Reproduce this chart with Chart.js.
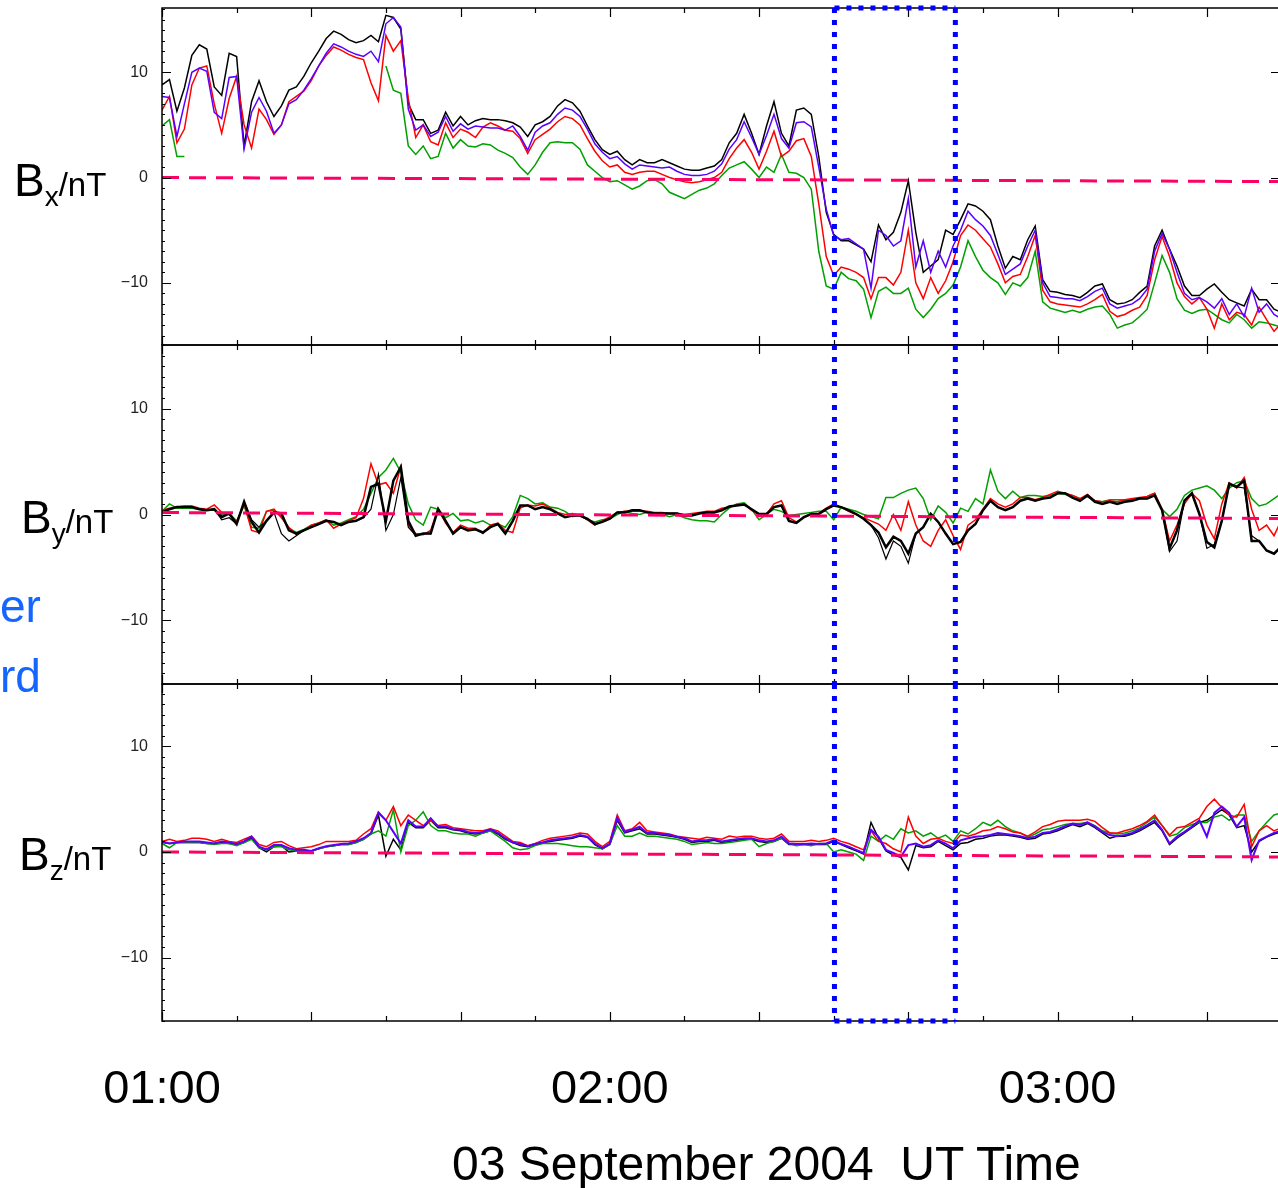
<!DOCTYPE html>
<html>
<head>
<meta charset="utf-8">
<title>Magnetic field components, 03 September 2004</title>
<script src="https://cdn.jsdelivr.net/npm/chart.js@4.4.1/dist/chart.umd.min.js"></script>
<style>
  body { margin: 0; background: #fff; }
  #wrap { position: relative; width: 1278px; height: 1188px; overflow: hidden; font-family: 'Liberation Sans', Arial, sans-serif; }
  canvas { position: absolute; left: 0; }
  .lab { position: absolute; white-space: nowrap; color: #000; line-height: 1; }
  .big { font-size: 46px; }
  .sub { font-size: 28px; position: relative; top: 10px; }
  .unit { font-size: 33px; }
  .cut { position: absolute; left: 0; width: 40px; text-align: right; font-size: 46px; line-height: 1; color: #1466ff; }
</style>
</head>
<body>
<div id="wrap">
  <canvas id="bx" width="1300" height="350" style="top:0px"></canvas>
  <canvas id="by" width="1300" height="350" style="top:340px"></canvas>
  <canvas id="bz" width="1300" height="509" style="top:679px"></canvas>

  <div class="lab" style="left:14px;top:157px"><span class="big">B</span><span class="sub">x</span><span class="unit">/nT</span></div>
  <div class="lab" style="left:21px;top:494px"><span class="big">B</span><span class="sub">y</span><span class="unit">/nT</span></div>
  <div class="lab" style="left:19px;top:831px"><span class="big">B</span><span class="sub">z</span><span class="unit">/nT</span></div>

  <div class="cut" style="top:583px">er</div>
  <div class="cut" style="top:653px;width:37px">rd</div>

  <div class="lab" style="left:452px;top:1140px;font-size:48px;white-space:pre">03 September 2004  UT Time</div>
</div>
<script>
// one sample per minute, minutes after 01:00 UT
const minutes = Array.from({ length: 151 }, (_, i) => i);

const hourTicks = [0, 60, 120];
const hourLabels = ['01:00', '02:00', '03:00'];
const yTickVals = [-10, 0, 10];
const yTickText = ['\u221210', '0', '10'];

// dotted box: start / end of the interval (minutes after 01:00)
const eventWindow = [90.1, 106.3];

// dashed reference line, value at left and right edge (Bx, By, Bz)
const zeroLeft = [0.0, 0.19, 0.0];
const zeroRight = [-0.38, -0.38, -0.47];

/******************** Bx ********************/
const bxBlack = [
  8.8, 9.3, 6.3, 8.5, 11.6, 12.6, 12.2, 8.6, 7.8, 11.8,
  11.5, 3.0, 7.2, 9.2, 7.2, 5.8, 6.8, 8.3, 8.6, 9.6,
  10.9, 12.0, 13.2, 13.9, 13.6, 13.1, 12.8, 13.0, 13.5, 12.9,
  15.4, 15.2, 14.1, 7.0, 5.5, 5.5, 4.2, 4.5, 6.2, 4.9,
  5.8, 5.0, 5.4, 5.6, 5.5, 5.5, 5.4, 5.2, 4.8, 3.9,
  5.0, 5.3, 5.8, 6.8, 7.4, 7.1, 6.3, 4.9, 3.6, 2.65,
  2.2, 2.5, 1.7, 1.2, 1.7, 1.4, 1.4, 1.7, 1.4, 1.1,
  0.8, 0.7, 0.7, 0.9, 1.1, 1.7, 3.3, 4.2, 6.0, 4.2,
  2.2, 4.9, 7.2, 4.2, 3.0, 6.4, 6.6, 6.0, 2.0, -3.3,
  -5.4, -6.0, -6.0, -6.4, -6.8, -8.0, -4.5, -5.9, -5.2, -3.3,
  -0.3, -5.2, -9.0, -8.4, -7.8, -5.0, -5.4, -4.0, -2.5, -2.7,
  -3.2, -4.0, -6.5, -8.6, -7.5, -7.8, -5.9, -4.6, -9.7, -10.8,
  -10.9, -11.1, -11.2, -11.4, -10.9, -10.3, -10.1, -11.6, -12.0, -11.9,
  -11.6, -10.9, -10.3, -6.5, -5.0, -6.8, -8.4, -10.3, -11.2, -11.2,
  -10.6, -10.1, -10.9, -11.6, -11.9, -12.2, -10.6, -11.6, -11.6, -12.5, -12.8
];
const bxBlue = [
  7.7, 7.6, 3.9, 7.0, 10.0, 10.4, 10.1, 6.2, 5.6, 9.5,
  9.6, 2.7, 6.2, 7.6, 6.3, 4.2, 5.0, 7.0, 7.4, 8.3,
  9.4, 10.6, 11.8, 12.7, 12.4, 12.0, 11.7, 11.5, 12.0, 11.0,
  14.6, 15.2, 14.3, 6.5, 4.5, 5.0, 3.9, 4.3, 5.8, 4.4,
  5.1, 4.6, 4.9, 4.8, 4.7, 4.7, 4.5, 4.9, 3.9, 2.6,
  4.3, 4.9, 5.2, 6.0, 6.6, 6.4, 5.8, 4.6, 3.2, 2.4,
  1.8, 2.0, 1.3, 0.8, 1.2, 1.1, 1.0, 0.9, 1.0, 0.6,
  0.3, 0.2, 0.2, 0.3, 0.6, 1.3, 2.7, 3.6, 5.3, 3.8,
  2.2, 4.0, 6.0, 3.7, 2.8, 5.2, 5.3, 4.8, 1.0, -3.0,
  -5.5, -5.9, -5.8, -6.3, -6.8, -10.5, -5.0, -5.5, -6.5, -6.0,
  -2.0, -8.5, -6.0, -9.0, -7.0, -8.5, -6.5, -5.0, -3.2, -4.0,
  -4.6, -5.5, -7.3, -9.2, -8.7, -8.2, -6.5, -5.0, -10.0, -11.3,
  -11.4, -11.5, -11.5, -11.7, -11.3, -10.8, -10.5, -12.0, -12.4, -12.2,
  -12.0, -11.5, -10.6, -7.0, -5.3, -6.8, -9.0, -11.0, -11.6, -11.4,
  -11.8, -12.4, -11.5, -13.0, -12.0, -13.2, -10.5, -12.8, -12.0, -13.0, -13.4
];
const bxRed = [
  6.4, 7.7, 3.3, 4.6, 8.8, 10.4, 10.6, 7.0, 4.2, 7.5,
  9.6, 5.0, 2.8, 6.5, 5.5, 4.1, 5.0, 7.2, 7.7, 8.2,
  9.2, 10.6, 11.6, 12.4, 12.1, 11.7, 11.4, 11.2, 9.0, 7.3,
  13.5, 12.0, 13.0, 7.5, 3.8, 5.0, 3.4, 3.1, 5.2, 3.8,
  4.6, 4.3, 3.8, 4.8, 5.2, 4.9, 4.5, 4.4, 3.7, 2.3,
  3.6, 4.1, 4.6, 5.3, 5.8, 5.6, 5.0, 3.7, 2.5, 1.6,
  1.0, 1.2, 0.5, 0.3, 0.5, 0.6, 0.6, 0.3, 0.0, -0.2,
  -0.4, -0.5, -0.4, -0.2, 0.0, 0.5, 1.8, 2.8, 3.6, 2.4,
  0.8, 2.5, 4.4, 2.0, 2.5, 3.5, 3.7, 2.0, -2.5, -7.5,
  -9.3, -8.5, -8.7, -9.0, -9.5, -11.5, -9.5, -9.5, -10.2, -9.0,
  -5.0, -10.0, -11.5, -9.5, -11.0, -9.8, -8.0, -5.5, -4.5, -5.0,
  -5.8, -6.6, -8.2, -10.0, -9.4, -9.2, -7.5, -5.5, -10.7, -11.8,
  -12.0, -12.1, -12.2, -12.3, -12.0, -11.6, -11.1, -12.7, -13.2, -13.0,
  -12.6, -12.3, -11.2, -7.8, -5.6, -7.5, -10.0, -11.3, -12.0, -11.4,
  -12.5, -14.3, -12.0, -13.5, -12.8, -13.0, -14.0, -12.3, -13.5, -14.6, -13.8
];
const bxGreen = [
  4.9, 5.5, 2.0, 2.0, null, null, null, null, null, null,
  null, null, null, null, null, null, null, null, null, null,
  null, null, null, null, null, null, null, null, null, null,
  10.6, 8.3, 8.0, 3.0, 2.2, 3.0, 1.8, 2.0, 4.2, 2.8,
  3.6, 3.0, 2.9, 3.2, 3.1, 2.6, 2.3, 1.9, 1.0, 0.3,
  1.2, 2.4, 3.3, 3.4, 3.3, 3.3, 2.7, 1.2, 0.6, 0.0,
  -0.4, -0.3, -0.7, -1.1, -0.8, -0.3, -0.2, -0.6, -1.4, -1.7,
  -2.0, -1.6, -1.2, -1.0, -0.6, 0.2, 0.9, 1.2, 1.5, 0.8,
  0.0, 1.0, 0.5, 2.2, 0.5, 0.4, 0.0, -1.1, -7.0, -10.3,
  -10.6, -9.0, -9.6, -9.8, -10.6, -13.3, -10.8, -10.4, -11.0, -11.0,
  -10.5, -12.5, -13.3, -12.5, -11.5, -11.0, -10.2, -8.5, -6.0, -7.5,
  -8.8, -9.5, -10.0, -11.1, -10.0, -10.3, -9.5, -7.0, -11.8, -12.4,
  -12.6, -12.8, -12.6, -12.8, -12.5, -12.3, -12.2, -13.0, -14.3, -14.0,
  -13.8, -13.2, -12.5, -10.0, -7.4, -9.0, -11.5, -12.6, -12.9, -12.6,
  -12.5, -13.0, -13.5, -13.8, -13.0, -13.5, -14.3, -13.7, -13.8, -14.0, -14.2
];

/******************** By ********************/
const byBlack = [
  0.2, 0.5, 0.7, 0.7, 0.7, 0.5, 0.4, 0.5, -0.25, 0.1,
  -0.9, 1.2, -0.7, -1.7, -0.6, 0.2, 0.1, -1.5, -1.8, -1.5,
  -1.2, -0.9, -0.6, -0.7, -1.0, -0.7, -0.6, -0.25, 2.6, 2.9,
  -0.6, 3.2, 4.5, -0.6, -2.0, -1.8, -1.8, 0.5, -0.6, -1.8,
  -1.2, -1.5, -1.4, -1.7, -1.2, -0.9, -1.8, -0.6, 0.85, 0.85,
  0.5, 0.7, 0.5, 0.1, -0.25, -0.1, -0.1, -0.4, -0.9, -0.7,
  -0.4, 0.2, 0.2, 0.4, 0.4, 0.2, 0.1, 0.1, 0.1, 0.1,
  -0.1, -0.1, 0.1, 0.2, 0.2, 0.4, 0.75, 0.85, 0.95, 0.5,
  0.05, 0.05, 0.7, 0.85, -0.6, -0.8, -0.25, 0.05, 0.05, 0.5,
  0.85, 0.7, 0.4, 0.05, -0.4, -1.0, -1.7, -3.1, -2.1, -2.5,
  -3.7, -1.8, -1.2, 0.05, -0.7, -1.8, -2.8, -2.6, -1.5, -0.9,
  0.4, 1.3, 0.7, 0.4, 0.7, 1.3, 1.5, 1.3, 1.5, 1.6,
  2.0, 2.0, 1.6, 1.3, 1.8, 1.2, 1.0, 1.2, 1.0, 1.2,
  1.3, 1.5, 1.5, 1.8, 0.4, -3.2, -1.5, 1.3, 2.0, 0.05,
  -2.6, -3.1, -0.6, 2.9, 2.6, 3.2, -2.5, -2.5, -3.4, -3.7, -3.0
];
// fourth By trace, plotted thin and black like the reference
const byThin = [
  0.2, 0.5, 0.7, 0.7, 0.7, 0.5, 0.4, 0.5, -0.5, -0.3,
  -0.9, 1.2, -0.5, -1.2, -0.6, 0.2, -1.8, -2.5, -2.0, -1.5,
  -1.2, -0.9, -0.6, -0.7, -1.0, -0.7, -0.6, -0.3, 0.5, 3.8,
  -1.5, 0.0, 3.5, -1.2, -2.0, -1.8, -1.8, 0.5, -0.6, -1.8,
  -1.2, -1.5, -1.4, -1.7, -1.2, -0.9, -1.8, -0.6, 0.85, 0.85,
  0.5, 0.7, 0.5, 0.1, -0.25, -0.1, -0.1, -0.4, -0.9, -0.7,
  -0.4, 0.2, 0.2, 0.4, 0.4, 0.2, 0.1, 0.1, 0.1, 0.1,
  -0.1, -0.1, 0.1, 0.2, 0.2, 0.4, 0.75, 0.85, 0.95, 0.5,
  0.05, 0.05, 0.7, 0.85, -0.6, -0.8, -0.25, 0.05, 0.05, 0.5,
  0.85, 0.7, 0.4, 0.05, -0.4, -1.0, -2.2, -4.2, -2.5, -3.0,
  -4.6, -1.8, -1.2, 0.05, -0.7, -1.8, -2.8, -2.6, -1.5, -0.9,
  0.4, 1.3, 0.7, 0.4, 0.7, 1.3, 1.5, 1.3, 1.5, 1.6,
  2.0, 2.0, 1.6, 1.3, 1.8, 1.2, 1.0, 1.2, 1.0, 1.2,
  1.3, 1.5, 1.5, 1.8, 0.4, -3.5, -2.5, 1.3, 2.0, 0.05,
  -3.2, -2.8, -0.6, 2.9, 2.6, 2.5, -2.0, -2.5, -3.4, -3.7, -3.0
];
const byRed = [
  0.4, 0.6, 0.7, 0.8, 0.8, 0.6, 0.5, 0.9, 0.2, 0.0,
  -0.7, 1.0, -1.5, -1.7, 0.3, 0.5, -0.3, -1.2, -1.9, -1.5,
  -1.0, -0.8, -0.5, -1.3, -0.9, -0.6, -0.3, 1.5, 4.8, 2.8,
  3.0, 2.0, 4.5, -1.0, -1.8, -1.9, -1.5, 0.6, -0.8, -1.7,
  -1.0, -1.3, -1.3, -1.8, -1.0, -0.8, -1.5, -1.7, 0.6, 0.9,
  0.8, 1.0, 0.6, 0.2, 0.0, 0.1, -0.1, -0.5, -1.0, -0.6,
  -0.2, 0.2, 0.3, 0.3, 0.3, 0.3, 0.2, 0.2, 0.1, 0.1,
  0.0, 0.1, 0.2, 0.3, 0.3, 0.6, 0.7, 0.9, 1.0, 0.4,
  0.0, 0.0, 1.0, 1.3, -0.3, -0.7, -0.3, 0.0, 0.1, 0.6,
  1.0, 0.7, 0.3, 0.0, -0.3, -0.6, -0.9, -1.5, 0.0, -1.5,
  1.2, -1.0, -2.5, -3.0, -1.5, -0.5, -2.0, -3.3, -1.0, -0.5,
  0.5, 1.5, 1.0, 0.7, 1.0, 1.6, 1.6, 1.4, 1.6, 1.9,
  2.2, 2.0, 1.8, 1.5, 1.9, 1.3, 1.2, 1.3, 1.2, 1.4,
  1.5, 1.6, 1.7, 2.0, 0.5, -2.5, -1.0, 1.0, 2.0, 1.3,
  -1.0, -2.3, 1.0, 3.0, 2.5, 3.5, 0.5, -1.5, -1.0, -2.0, -0.5
];
const byGreen = [
  0.3, 1.0, 0.6, 0.6, 0.6, 0.5, 0.4, 0.4, 0.0, 0.1,
  -0.6, 0.8, -1.2, -1.3, 0.3, 0.4, -0.2, -1.3, -1.7, -1.4,
  -1.0, -0.8, -0.5, -1.0, -0.8, -0.5, -0.2, 0.5, 2.0, 3.5,
  4.2, 5.3, 4.0, 1.0, -0.5, -1.0, 0.7, 0.5, -0.3, 0.1,
  -0.6, -0.5, -0.8, -0.6, -1.0, -0.9, -1.2, -0.2, 1.8, 1.5,
  1.0, 1.1, 0.7, 0.6, 0.3, -0.2, 0.0, -0.5, -0.7, -0.5,
  -0.4, 0.0, 0.3, 0.1, 0.0, 0.2, 0.1, 0.0, -0.2, 0.0,
  -0.3, -0.5, -0.6, -0.6, -0.7, 0.0, 0.6, 1.0, 1.1, 0.5,
  -0.5, 0.0, 0.5, 0.3, -0.1, 0.0, 0.1, 0.2, 0.3, 0.3,
  -0.5, 0.7, 0.5, 0.3, 0.0, -0.2, -0.4, 1.6, 1.6, 2.0,
  2.3, 2.5, 1.5, -0.5, 0.8, 0.2, -0.8, 0.6, 0.3, 1.5,
  1.0, 4.2, 2.2, 1.5, 2.2, 1.6, 1.8, 1.8, 1.7, 1.8,
  2.0, 1.9, 1.8, 1.5, 1.7, 1.3, 1.2, 1.4, 1.4, 1.4,
  1.4, 1.5, 1.7, 2.0, 0.5, -0.2, 0.5, 1.8, 2.3, 2.5,
  2.7, 2.3, 1.5, 2.5, 3.0, 3.2, 1.5, 0.8, 1.0, 1.5, 2.0
];

/******************** Bz ********************/
const bzBlack = [
  0.9, 0.8, 0.9, 0.9, 0.9, 0.9, 0.8, 0.8, 0.9, 0.8,
  0.7, 0.9, 1.3, 0.4, 0.0, 0.5, 0.6, 0.0, 0.1, 0.1,
  0.1, 0.3, 0.5, 0.6, 0.7, 0.7, 0.9, 1.2, 1.7, 3.5,
  -0.4, 1.2, 0.2, 2.8, 2.3, 2.3, 3.0, 2.3, 2.3, 2.1,
  2.0, 1.8, 1.7, 1.8, 2.0, 1.7, 1.2, 0.9, 0.6, 0.5,
  0.7, 0.9, 1.0, 1.1, 1.2, 1.3, 1.5, 1.4, 0.7, 0.3,
  0.7, 3.0, 1.8, 2.0, 2.2, 1.7, 1.7, 1.6, 1.5, 1.4,
  1.2, 0.9, 1.0, 1.0, 1.1, 0.9, 1.0, 1.1, 1.2, 1.2,
  1.0, 0.9, 1.0, 1.3, 0.7, 0.7, 0.7, 0.7, 0.7, 0.7,
  1.0, 0.7, 0.4, 0.1, -0.2, 2.8, 1.3, 0.1, -0.3, -0.5,
  -1.7, 0.6, 0.4, 0.5, 1.0, 0.6, 0.2, 0.8, 0.9, 1.2,
  1.3, 1.5, 1.6, 1.6, 1.5, 1.4, 1.2, 1.3, 1.7, 1.8,
  2.0, 2.3, 2.6, 2.4, 2.7, 2.3, 1.8, 1.3, 1.5, 1.5,
  1.7, 2.0, 2.4, 2.8, 2.0, 0.7, 1.3, 1.8, 2.3, 2.8,
  3.0, 3.5, 4.0, 3.5, 2.3, 2.5, 0.0, 1.0, 1.4, 1.7, 1.9
];
const bzBlue = [
  1.0, 0.8, 0.9, 1.0, 1.0, 1.0, 0.9, 0.8, 1.0, 0.9,
  0.75, 1.0, 1.45, 0.5, 0.25, 0.65, 0.65, 0.35, 0.2, 0.2,
  0.1, 0.35, 0.55, 0.65, 0.75, 0.8, 1.0, 1.3, 1.8, 3.7,
  3.0, 1.9, 0.8, 3.0, 2.4, 2.4, 3.2, 2.4, 2.4, 2.15,
  2.1, 1.9, 1.8, 1.9, 2.15, 1.8, 1.3, 0.9, 0.75, 0.55,
  0.75, 0.9, 1.1, 1.2, 1.3, 1.4, 1.6, 1.45, 0.8, 0.35,
  0.8, 3.2, 1.9, 2.1, 2.4, 1.8, 1.8, 1.7, 1.6, 1.45,
  1.3, 1.0, 1.1, 1.1, 1.2, 1.0, 1.1, 1.2, 1.3, 1.3,
  1.1, 1.0, 1.1, 1.45, 0.8, 0.75, 0.75, 0.8, 0.75, 0.8,
  1.1, 0.75, 0.5, 0.2, -0.1, 2.1, 1.45, 0.2, -0.1, -0.45,
  0.65, 0.8, 0.5, 0.65, 1.1, 0.8, 0.35, 1.1, 1.3, 1.45,
  1.5, 1.6, 1.8, 1.7, 1.6, 1.5, 1.3, 1.45, 1.8, 1.9,
  2.15, 2.45, 2.7, 2.55, 2.8, 2.4, 1.9, 1.6, 1.5, 1.6,
  1.8, 2.15, 2.55, 3.0, 2.1, 0.8, 1.45, 1.9, 2.4, 3.0,
  1.45, 3.7, 4.3, 3.7, 2.4, 3.3, -0.75, 1.1, 1.45, 1.8, 2.0
];
const bzRed = [
  1.0, 1.2, 1.0, 1.1, 1.3, 1.3, 1.2, 1.0, 1.2, 1.0,
  0.9, 1.2, 1.5, 0.7, 0.5, 0.9, 1.0, 0.6, 0.3, 0.4,
  0.5, 0.7, 1.0, 1.0, 1.0, 1.0, 1.1, 1.7, 2.2, 3.8,
  3.0, 4.3, 2.5, 3.5, 3.0, 2.5, 3.0, 2.5, 2.6, 2.3,
  2.2, 2.1, 2.0, 2.0, 2.2, 2.0, 1.5, 1.0, 0.9, 0.6,
  0.8, 1.1, 1.3, 1.4, 1.5, 1.6, 1.8, 1.7, 1.0, 0.5,
  1.0, 3.5, 2.0, 2.2, 2.8, 2.0, 1.9, 1.8, 1.7, 1.5,
  1.4, 1.3, 1.2, 1.4, 1.3, 1.2, 1.5, 1.4, 1.5, 1.5,
  1.3, 1.2, 1.3, 1.7, 1.0, 1.0, 1.0, 1.1, 1.0, 1.1,
  1.3, 1.0, 0.8, 0.5, 0.2, 2.0, 1.0, 0.8, 0.3, 0.0,
  3.3, 1.5, 0.8, 1.2, 1.3, 1.0, 0.8, 1.6, 1.5, 1.7,
  2.0, 2.1, 2.4, 2.2, 1.9, 1.8, 1.5, 1.9, 2.4, 2.6,
  2.9, 3.0, 3.0, 3.0, 3.1, 2.9, 2.3, 1.8, 1.8, 2.0,
  2.2, 2.5, 2.9, 3.5, 2.5, 1.6, 2.3, 2.4, 2.8, 3.2,
  4.3, 5.0, 4.2, 3.5, 3.3, 4.5, 0.5, 2.0, 2.5, 2.0, 2.3
];
const bzGreen = [
  0.8, 0.4, 0.9, 0.9, 0.9, 0.9, 0.8, 0.7, 0.8, 0.8,
  0.6, 0.9, 1.2, 0.4, 0.2, 0.5, 0.5, 0.2, 0.1, 0.1,
  0.1, 0.3, 0.5, 0.6, 0.7, 0.7, 0.9, 1.2, 1.7, 2.0,
  1.5, 4.0, 0.0, 2.5, 3.0, 3.8, 2.5, 2.0, 2.0, 1.8,
  1.7, 1.7, 1.5, 1.8, 2.0, 1.5, 1.0, 0.4, 0.2, 0.3,
  0.6, 0.8, 0.8, 0.8, 0.7, 0.6, 0.5, 0.5, 0.4, 0.3,
  0.7, 2.5, 1.5, 1.5, 1.8, 1.5, 1.5, 1.4, 1.3, 1.2,
  1.0, 0.7, 0.8, 0.9, 0.8, 0.8, 0.9, 1.0, 1.1, 1.2,
  0.5, 0.8, 1.0, 1.3, 0.8, 0.6, 0.7, 0.6, 0.8, 0.8,
  0.0, 0.2, 0.0, -0.2, -0.8, 1.5, 1.0, 1.6, 1.2, 2.2,
  1.8, 2.0, 1.5, 1.8, 1.3, 1.6, 1.0, 2.0, 1.7, 2.2,
  2.8, 2.5, 3.0, 2.4, 2.0, 1.8, 1.4, 1.7, 2.1, 2.2,
  2.4, 2.6, 2.7, 2.7, 2.8, 2.5, 2.0, 1.8, 1.7, 1.8,
  2.0, 2.3, 2.8, 3.3, 2.5, 1.5, 1.7, 2.3, 2.6, 2.8,
  2.8, 3.3, 3.5, 3.0, 3.5, 3.5, 1.0, 2.0, 2.8, 3.5, 3.7
];

const BLACK = '#000000';
const BLUE = '#5a00ff';
const RED = '#ff0000';
const GREEN = '#00a000';
const PINK = '#ff0066';
const FONT = "'Liberation Sans', Arial, sans-serif";

const xMax = 149.8;

function trace(values, color, width, order) {
    return {
        data: minutes.map((m, i) => ({ x: m, y: values[i] })),
        borderColor: color,
        borderWidth: width,
        pointRadius: 0,
        tension: 0,
        spanGaps: false,
        fill: false,
        order: order
    };
}

function zeroLine(panel) {
    return {
        data: [{ x: 0, y: zeroLeft[panel] }, { x: 150, y: zeroRight[panel] }],
        borderColor: PINK,
        borderWidth: 3,
        borderDash: [17, 10],
        pointRadius: 0,
        fill: false,
        order: 0
    };
}

// box, inward tick marks and the dotted interval, drawn over the traces
const framePlugin = {
    id: 'frame',
    afterDatasetsDraw(chart, args, opts) {
        const ctx = chart.ctx;
        const a = chart.chartArea;
        const x = chart.scales.x;
        const y = chart.scales.y;
        ctx.save();
        ctx.strokeStyle = '#000';
        ctx.lineWidth = 1.5;
        ctx.strokeRect(a.left, a.top, a.right - a.left, a.bottom - a.top);

        ctx.lineWidth = 1.2;
        ctx.beginPath();
        for (let m = 0; m <= x.max; m += 10) {
            const px = Math.round(x.getPixelForValue(m)) + 0.5;
            const len = m % 20 === 0 ? 9 : 5;
            ctx.moveTo(px, a.top);
            ctx.lineTo(px, a.top + len);
            ctx.moveTo(px, a.bottom);
            ctx.lineTo(px, a.bottom - len);
        }
        for (let v = Math.ceil(y.min); v <= y.max; v++) {
            const py = Math.round(y.getPixelForValue(v)) + 0.5;
            const major = v % 10 === 0;
            ctx.moveTo(a.left, py);
            ctx.lineTo(a.left + (major ? 9 : 3), py);
            if (major) {
                ctx.moveTo(a.right, py);
                ctx.lineTo(a.right - 9, py);
            }
        }
        ctx.stroke();

        const x0 = x.getPixelForValue(eventWindow[0]);
        const x1 = x.getPixelForValue(eventWindow[1]);
        ctx.strokeStyle = '#0000ff';
        ctx.lineWidth = 5;
        ctx.setLineDash([5, 7]);
        ctx.beginPath();
        ctx.moveTo(x0, a.top);
        ctx.lineTo(x0, a.bottom);
        ctx.moveTo(x1, a.top);
        ctx.lineTo(x1, a.bottom);
        if (opts.top) {
            ctx.moveTo(x0, a.top);
            ctx.lineTo(x1, a.top);
        }
        if (opts.bottom) {
            ctx.moveTo(x0, a.bottom);
            ctx.lineTo(x1, a.bottom);
        }
        ctx.stroke();
        ctx.restore();
    }
};

function makePanel(id, cfg) {
    return new Chart(document.getElementById(id), {
        type: 'line',
        data: { datasets: cfg.datasets },
        options: {
            responsive: false,
            animation: false,
            events: [],
            layout: { padding: { top: cfg.padTop, bottom: cfg.padBottom, left: 0, right: 20 } },
            plugins: {
                legend: { display: false },
                tooltip: { enabled: false },
                frame: { top: cfg.boxTop, bottom: cfg.boxBottom }
            },
            scales: {
                x: {
                    type: 'linear',
                    min: 0,
                    max: xMax,
                    display: cfg.showX,
                    grid: { display: false, drawTicks: false },
                    border: { display: false },
                    afterBuildTicks: (s) => { s.ticks = hourTicks.map(v => ({ value: v })); },
                    ticks: {
                        autoSkip: false,
                        maxRotation: 0,
                        padding: 41,
                        color: '#000',
                        font: { family: FONT, size: 47 },
                        callback: (v) => hourLabels[hourTicks.indexOf(v)]
                    },
                    afterFit: (s) => {
                        s.height = cfg.showX ? 167 : 0;
                        s.paddingLeft = 0;
                        s.paddingRight = 0;
                    }
                },
                y: {
                    min: cfg.yMin,
                    max: cfg.yMax,
                    grid: { display: false, drawTicks: false },
                    border: { display: false },
                    afterBuildTicks: (s) => { s.ticks = yTickVals.map(v => ({ value: v })); },
                    ticks: {
                        padding: 14,
                        color: '#222',
                        font: { family: FONT, size: 16 },
                        callback: (v) => yTickText[yTickVals.indexOf(v)]
                    },
                    afterFit: (s) => {
                        s.width = 162;
                        s.paddingTop = 0;
                        s.paddingBottom = 0;
                    }
                }
            }
        },
        plugins: [framePlugin]
    });
}

makePanel('bx', {
    padTop: 8, padBottom: 5, yMin: -15.9, yMax: 16.1, showX: false, boxTop: true, boxBottom: false,
    datasets: [
        zeroLine(0),
        trace(bxBlue, BLUE, 1.5, 1),
        trace(bxRed, RED, 1.5, 2),
        trace(bxBlack, BLACK, 1.5, 3),
        trace(bxGreen, GREEN, 1.5, 4)
    ]
});

makePanel('by', {
    padTop: 5, padBottom: 6, yMin: -16, yMax: 16, showX: false, boxTop: false, boxBottom: false,
    datasets: [
        zeroLine(1),
        trace(byBlack, BLACK, 2.5, 1),
        trace(byThin, BLACK, 1.2, 2),
        trace(byRed, RED, 1.5, 3),
        trace(byGreen, GREEN, 1.5, 4)
    ]
});

makePanel('bz', {
    padTop: 5, padBottom: 0, yMin: -16, yMax: 15.9, showX: true, boxTop: false, boxBottom: true,
    datasets: [
        zeroLine(2),
        trace(bzBlue, BLUE, 2, 1),
        trace(bzRed, RED, 1.5, 2),
        trace(bzGreen, GREEN, 1.5, 3),
        trace(bzBlack, BLACK, 1.5, 4)
    ]
});
</script>
</body>
</html>
